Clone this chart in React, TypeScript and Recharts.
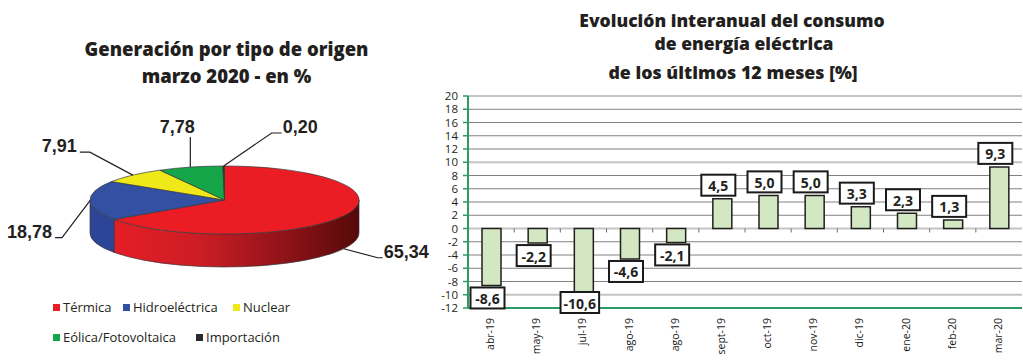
import React from 'react';
import {
  PieChart,
  Pie,
  Cell,
  Legend,
  BarChart,
  Bar,
  XAxis,
  YAxis,
  CartesianGrid,
  LabelList,
  ReferenceLine,
} from 'recharts';

// ---------- Data ----------
const SOURCES = ['Térmica', 'Hidroeléctrica', 'Nuclear', 'Eólica/Fotovoltaica', 'Importación'];
const SHARES = [65.34, 18.78, 7.91, 7.78, 0.2];

const MONTHS = ['abr-19', 'may-19', 'jul-19', 'ago-19', 'ago-19', 'sept-19', 'oct-19', 'nov-19', 'dic-19', 'ene-20', 'feb-20', 'mar-20'];
const VARIATION = [-8.6, -2.2, -10.6, -4.6, -2.1, 4.5, 5.0, 5.0, 3.3, 2.3, 1.3, 9.3];
const Y_TICKS = [-12, -10, -8, -6, -4, -2, 0, 2, 4, 6, 8, 10, 12, 14, 16, 18, 20];
const MAJOR_GRID = [-10, 0, 10, 20];
const MINOR_GRID = [-8, -6, -4, -2, 2, 4, 6, 8, 12, 14, 16, 18];

const PIE_TITLE = ['Generación por tipo de origen', 'marzo 2020 - en %'];
const BAR_TITLE = ['Evolución interanual del consumo', 'de energía eléctrica', 'de los últimos 12 meses [%]'];

// ---------- Styles ----------
const TOP_COLORS = ['#ec1c24', '#3450a2', '#f0e91a', '#16a64a', '#2b2b2b'];
const SIDE_COLORS = ['url(#redSide)', '#2c4596', '#c9c313', '#0f8a3c', '#151515'];
const SANS = "'Open Sans', 'DejaVu Sans', sans-serif";
const ARIAL = "'Liberation Sans', Arial, sans-serif";
const TEXT = '#231f20';
const AXIS_GREEN = '#2a9d66';

const RX = 134.5;
const RY = 34;
const DEPTH = 33;
const RAD = Math.PI / 180;

// leader line styling per slice (anchor on top rim or bottom of wall, elbow offset, tail)
const LEADERS = [
  { side: 'bottom', dx: 34, dy: 9, hx: 5, anchor: 'start' },
  { side: 'top', dx: -28, dy: 37, hx: -7, anchor: 'end' },
  { side: 'top', dx: -43, dy: -23, hx: -10, anchor: 'end' },
  { side: 'top', dx: 0, dy: -30, hx: 0, anchor: 'middle' },
  { side: 'top', dx: 48, dy: -33, hx: 10, anchor: 'start' },
];

const LEGEND_SLOTS = [
  { x: 53, y: 307 },
  { x: 123, y: 307 },
  { x: 233, y: 307 },
  { x: 53, y: 337 },
  { x: 196, y: 337 },
];

const pieData = SOURCES.map((name, i) => ({ name, value: SHARES[i] }));
const barData = MONTHS.map((m, i) => ({ idx: i, month: m, value: VARIATION[i] }));

const fmt = (v: number, d: number) => v.toFixed(d).replace('.', ',');

function pt(cx: number, cy: number, a: number, dy = 0): [number, number] {
  return [cx + RX * Math.cos(a * RAD), cy - RY * Math.sin(a * RAD) + dy];
}

function frontIntervals(s: number, e: number): [number, number][] {
  const out: [number, number][] = [];
  for (const k of [-1, 0, 1]) {
    const lo = Math.max(e, -180 + 360 * k);
    const hi = Math.min(s, 360 * k);
    if (lo < hi) out.push([lo, hi]);
  }
  return out;
}

const renderSlice = (props: any) => {
  const { cx, cy, startAngle, endAngle, midAngle, index, value } = props;
  const s = Math.max(startAngle, endAngle);
  const e = Math.min(startAngle, endAngle);
  const walls = frontIntervals(s, e).map(([lo, hi], k) => {
    const p1 = pt(cx, cy, hi);
    const p2 = pt(cx, cy, lo);
    const d = `M${p1[0]},${p1[1]} A${RX},${RY} 0 0 1 ${p2[0]},${p2[1]} L${p2[0]},${p2[1] + DEPTH} A${RX},${RY} 0 0 0 ${p1[0]},${p1[1] + DEPTH} Z`;
    return <path key={k} d={d} fill={SIDE_COLORS[index]} stroke="#3a3a3a" strokeWidth={0.7} />;
  });
  const ps = pt(cx, cy, s);
  const pe = pt(cx, cy, e);
  const large = s - e > 180 ? 1 : 0;
  const top = `M${cx},${cy} L${ps[0]},${ps[1]} A${RX},${RY} 0 ${large} 1 ${pe[0]},${pe[1]} Z`;

  const L = LEADERS[index];
  const a = pt(cx, cy, midAngle, L.side === 'bottom' ? DEPTH : 0);
  const elbow = [a[0] + L.dx, a[1] + L.dy];
  const end = [elbow[0] + L.hx, elbow[1]];
  let tx = end[0];
  let ty = end[1] - 6;
  if (L.anchor === 'start') tx = end[0] + 1;
  if (L.anchor === 'end') tx = end[0] - 3;
  if (L.anchor === 'middle') {
    tx = end[0] - 13;
    ty = end[1] - 10;
  }
  return (
    <g key={`slice-${index}`}>
      {index === 0 && (
        <defs>
          <linearGradient id="redSide" x1="0" y1="0" x2="1" y2="0">
            <stop offset="0" stopColor="#e41e26" />
            <stop offset="0.35" stopColor="#cc1d25" />
            <stop offset="0.7" stopColor="#8e1318" />
            <stop offset="1" stopColor="#560909" />
          </linearGradient>
        </defs>
      )}
      {walls}
      <path d={top} fill={TOP_COLORS[index]} stroke="#3a3a3a" strokeWidth={0.7} />
      <polyline
        points={`${a[0]},${a[1]} ${elbow[0]},${elbow[1]} ${end[0]},${end[1]}`}
        fill="none"
        stroke="#231f20"
        strokeWidth={1.2}
      />
      <text
        x={tx}
        y={ty}
        textAnchor={L.anchor}
        dominantBaseline="central"
        fontFamily={ARIAL}
        fontWeight={700}
        fontSize={18}
        fill={TEXT}
      >
        {fmt(value, 2)}
      </text>
    </g>
  );
};

const renderLegend = (props: any) => {
  const payload = props.payload || [];
  return (
    <div style={{ position: 'relative', width: 420, height: 360 }}>
      {SOURCES.map((name, i) => {
        const item = payload.find((p: any) => p.value === name);
        const color = TOP_COLORS[i] || (item && item.color);
        const slot = LEGEND_SLOTS[i];
        return (
          <div
            key={name}
            style={{
              position: 'absolute',
              left: slot.x,
              top: slot.y - 10,
              height: 20,
              display: 'flex',
              alignItems: 'center',
              whiteSpace: 'nowrap',
            }}
          >
            <span style={{ display: 'inline-block', width: 7, height: 7, background: color, marginRight: 3 }} />
            <span style={{ fontFamily: SANS, fontSize: 13, color: TEXT }}>{name}</span>
          </div>
        );
      })}
    </div>
  );
};

const charW = (c: string, fs: number) => {
  if (c === ',') return 0.29 * fs;
  if (c === '-') return 0.32 * fs;
  return 0.572 * fs;
};

const PLOT_BOTTOM = 308;

const BoxLabel = (props: any) => {
  const { x, y, width, height, value } = props;
  const v = Number(value);
  const y1 = Math.min(y, y + height);
  const y2 = Math.max(y, y + height);
  const cxp = x + width / 2 - 4;
  const txt = fmt(v, 1);
  const fs = 14;
  const tw = txt.split('').reduce((s: number, c: string) => s + charW(c, fs), 0);
  const bw = Math.max(34, tw + 6);
  const bh = 21;
  let by = v >= 0 ? y1 - 3 - bh : y2 + 2;
  if (by + bh > PLOT_BOTTOM + 5) by = PLOT_BOTTOM + 5 - bh;
  return (
    <g>
      <rect x={cxp - bw / 2} y={by} width={bw} height={bh} fill="#fff" stroke="#1a1a1a" strokeWidth={2} />
      <text
        x={cxp}
        y={by + bh / 2 + 0.5}
        textAnchor="middle"
        dominantBaseline="central"
        fontFamily={SANS}
        fontWeight={700}
        fontSize={fs}
        fill={TEXT}
      >
        {txt}
      </text>
    </g>
  );
};

const MonthTick = (props: any) => {
  const { x, y, payload } = props;
  const bx = x + 3;
  const by = y + 10;
  return (
    <text
      x={bx}
      y={by}
      transform={`rotate(-90 ${bx} ${by})`}
      textAnchor="end"
      fontFamily={SANS}
      fontSize={10.5}
      fill="#1a1a1a"
    >
      {MONTHS[payload.value]}
    </text>
  );
};

const titleStyle = { fontFamily: SANS, fontWeight: 800, fill: TEXT } as const;

export default function App() {
  return (
    <div style={{ position: 'absolute', left: 0, top: 0, width: 1023, height: 360, background: '#fff', overflow: 'hidden' }}>
      <div style={{ position: 'absolute', left: 0, top: 0 }}>
        <PieChart width={440} height={360} margin={{ top: 0, right: 0, bottom: 0, left: 0 }}>
          <Pie
            data={pieData}
            dataKey="value"
            nameKey="name"
            cx={224.5}
            cy={200}
            outerRadius={RX}
            startAngle={90}
            endAngle={-270}
            isAnimationActive={false}
            stroke="none"
            label={renderSlice}
            labelLine={false}
          >
            {pieData.map((d, i) => (
              <Cell key={d.name} fill={TOP_COLORS[i]} fillOpacity={0} />
            ))}
          </Pie>
          <Legend
            content={renderLegend}
            wrapperStyle={{ position: 'absolute', left: 0, top: 0, width: 420, height: 360, pointerEvents: 'none' }}
          />
        </PieChart>
      </div>
      <div style={{ position: 'absolute', left: 420, top: 0 }}>
        <BarChart width={603} height={360} data={barData} margin={{ top: 96, right: 1, bottom: 0, left: 0 }}>
          <CartesianGrid vertical={false} horizontalValues={MINOR_GRID} stroke="#808080" strokeWidth={1} />
          <CartesianGrid vertical={false} horizontalValues={MAJOR_GRID} stroke="#c4c4c4" strokeWidth={2} />
          <XAxis
            dataKey="idx"
            type="category"
            height={52}
            interval={0}
            tickLine={false}
            tickSize={0}
            tickMargin={0}
            axisLine={{ stroke: AXIS_GREEN, strokeWidth: 2 }}
            tick={<MonthTick />}
          />
          <YAxis
            type="number"
            domain={[-12, 20]}
            ticks={Y_TICKS}
            interval={0}
            width={48}
            axisLine={{ stroke: AXIS_GREEN, strokeWidth: 2 }}
            tickLine={{ stroke: AXIS_GREEN, strokeWidth: 1.5 }}
            tickSize={5}
            tickMargin={5}
            tick={{ fontFamily: SANS, fontSize: 11.5, fill: TEXT }}
          />
          {barData.slice(1).map((d) => (
            <ReferenceLine
              key={`b${d.idx}`}
              position="start"
              segment={[
                { x: d.idx, y: 0 },
                { x: d.idx, y: -0.6 },
              ]}
              stroke="#6e6e6e"
              strokeWidth={1}
            />
          ))}
          <Bar dataKey="value" barSize={19} fill="#d3e8c2" stroke="#1f1f1f" strokeWidth={1.5} isAnimationActive={false}>
            <LabelList dataKey="value" content={<BoxLabel />} />
          </Bar>
        </BarChart>
      </div>
      <svg width={1023} height={360} style={{ position: 'absolute', left: 0, top: 0, pointerEvents: 'none' }}>
        <text x={226.5} y={56} textAnchor="middle" fontSize={18.5} {...titleStyle}>
          {PIE_TITLE[0]}
        </text>
        <text x={226.5} y={83} textAnchor="middle" fontSize={18.5} {...titleStyle}>
          {PIE_TITLE[1]}
        </text>
        <text x={732} y={26.5} textAnchor="middle" fontSize={17.5} {...titleStyle}>
          {BAR_TITLE[0]}
        </text>
        <text x={744} y={50} textAnchor="middle" fontSize={17.5} {...titleStyle}>
          {BAR_TITLE[1]}
        </text>
        <text x={733} y={78.5} textAnchor="middle" fontSize={17.8} {...titleStyle}>
          {BAR_TITLE[2]}
        </text>
      </svg>
    </div>
  );
}
